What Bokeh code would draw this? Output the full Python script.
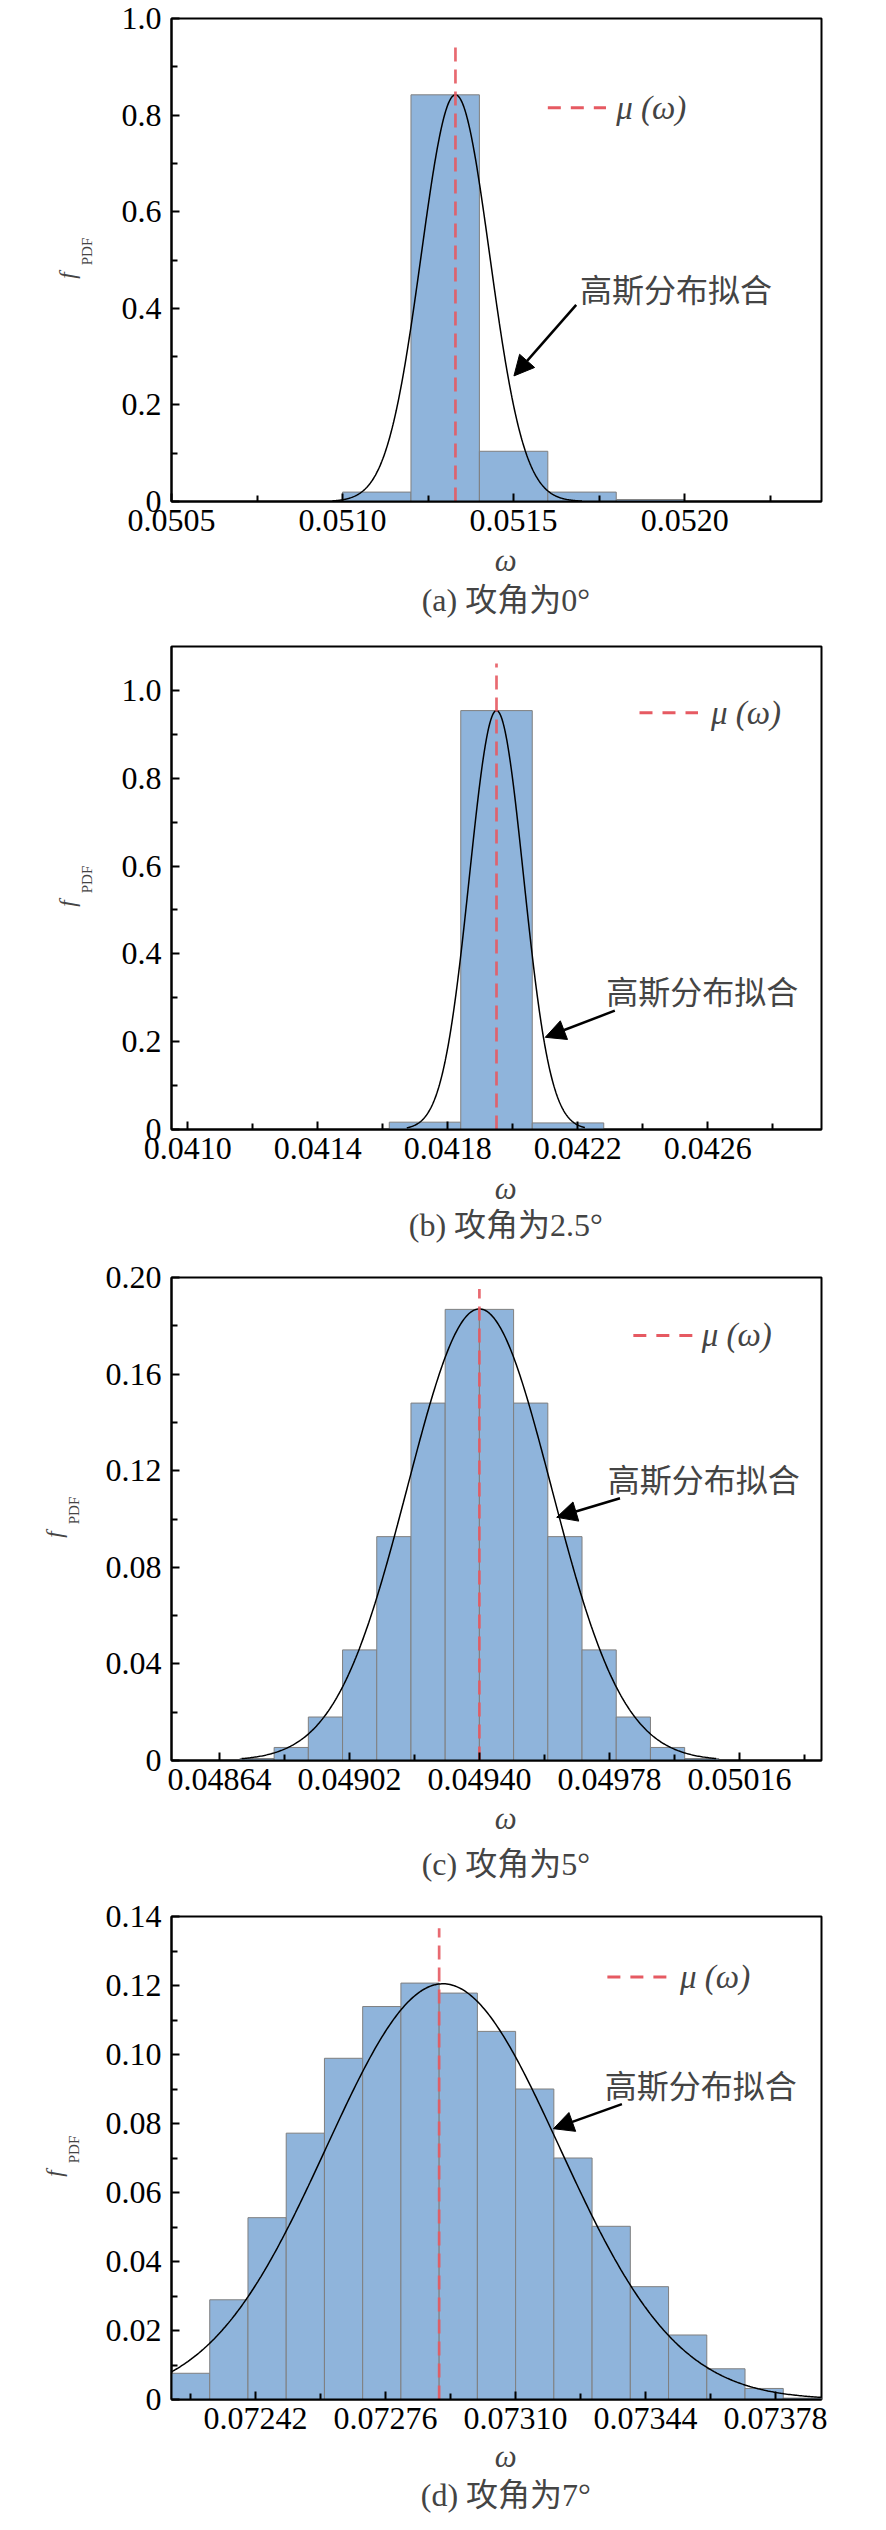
import numpy as np
from bokeh.plotting import figure
from bokeh.layouts import column, row
from bokeh.models import FixedTicker, CustomJSTickFormatter, Label, Arrow, NormalHead, Range1d
from bokeh.embed import file_html
from bokeh.resources import INLINE

# ---------------- (a) angle of attack 0 deg ----------------
a_bin_edges = [0.0510, 0.0512, 0.0514, 0.0516, 0.0518, 0.0520]
a_freq = [0.0195, 0.842, 0.104, 0.0195, 0.004]
a_mean = 0.05133
a_mean_top = 0.949
a_fit_mu, a_fit_sigma, a_fit_peak = 0.05133, 0.000100, 0.842
a_fit_x = [0.05097, 0.05170]
a_xlim = [0.0505, 0.0524]
a_ylim = [0.0, 1.0]
a_xticks = [0.0505, 0.0510, 0.0515, 0.0520]
a_xminor = [0.05075, 0.05125, 0.05175, 0.05225]
a_yticks = [0.0, 0.2, 0.4, 0.6, 0.8, 1.0]
a_yminor = [0.1, 0.3, 0.5, 0.7, 0.9]
a_legend = [0.05160, 0.05177, 0.815, 0.05180]
a_note = [0.051694, 0.4425, 0.051683, 0.407, 0.051501, 0.26]
a_caption = "(a) 攻角为0°"

# ---------------- (b) angle of attack 2.5 deg ----------------
b_bin_edges = [0.04162, 0.04184, 0.04206, 0.04228]
b_freq = [0.0167, 0.954, 0.015]
b_mean = 0.04195
b_mean_top = 1.061
b_fit_mu, b_fit_sigma, b_fit_peak = 0.04195, 0.000083, 0.954
b_fit_x = [0.041674, 0.042222]
b_xlim = [0.04095, 0.04295]
b_ylim = [0.0, 1.1]
b_xticks = [0.0410, 0.0414, 0.0418, 0.0422, 0.0426]
b_xminor = [0.0412, 0.0416, 0.0420, 0.0424, 0.0428]
b_yticks = [0.0, 0.2, 0.4, 0.6, 0.8, 1.0]
b_yminor = [0.1, 0.3, 0.5, 0.7, 0.9]
b_legend = [0.04239, 0.04257, 0.949, 0.04261]
b_note = [0.042288, 0.317, 0.042314, 0.2706, 0.042100, 0.210]
b_caption = "(b) 攻角为2.5°"

# ---------------- (c) angle of attack 5 deg ----------------
c_bin_edges = [0.0487, 0.0488, 0.0489, 0.0490, 0.0491, 0.0492, 0.0493, 0.0494,
               0.0495, 0.0496, 0.0497, 0.0498, 0.0499, 0.0500, 0.0501]
c_freq = [0.0008, 0.0054, 0.018, 0.0458, 0.0927, 0.148, 0.1868,
          0.1868, 0.148, 0.0927, 0.0458, 0.018, 0.0054, 0.0008]
c_mean = 0.04940
c_mean_top = 0.1952
c_fit_mu, c_fit_sigma, c_fit_peak = 0.04940, 0.000210, 0.187
c_fit_x = [0.048705, 0.050092]
c_xlim = [0.0485, 0.0504]
c_ylim = [0.0, 0.20]
c_xticks = [0.04864, 0.04902, 0.04940, 0.04978, 0.05016]
c_xminor = [0.04883, 0.04921, 0.04959, 0.04997, 0.05035]
c_yticks = [0.0, 0.04, 0.08, 0.12, 0.16, 0.20]
c_yminor = [0.02, 0.06, 0.10, 0.14, 0.18]
c_legend = [0.04985, 0.05003, 0.176, 0.05005]
c_note = [0.049775, 0.1168, 0.049811, 0.1086, 0.049626, 0.1007]
c_caption = "(c) 攻角为5°"

# ---------------- (d) angle of attack 7 deg ----------------
d_bin_edges = [0.0722, 0.0723, 0.0724, 0.0725, 0.0726, 0.0727, 0.0728, 0.0729, 0.0730,
               0.0731, 0.0732, 0.0733, 0.0734, 0.0735, 0.0736, 0.0737, 0.0738, 0.0739]
d_freq = [0.0076, 0.0289, 0.0527, 0.0772, 0.0989, 0.1139, 0.1207, 0.1178, 0.1067,
          0.0900, 0.0700, 0.0502, 0.0327, 0.0187, 0.0089, 0.0032, 0.0004]
d_mean = 0.0729
d_mean_top = 0.1366
d_fit_mu, d_fit_sigma, d_fit_peak = 0.07291, 0.000305, 0.1205
d_fit_x = [0.0722, 0.0739]
d_xlim = [0.0722, 0.0739]
d_ylim = [0.0, 0.14]
d_xticks = [0.07242, 0.07276, 0.07310, 0.07344, 0.07378]
d_xminor = [0.07225, 0.07259, 0.07293, 0.07327, 0.07361]
d_yticks = [0.0, 0.02, 0.04, 0.06, 0.08, 0.10, 0.12, 0.14]
d_yminor = [0.01, 0.03, 0.05, 0.07, 0.09, 0.11, 0.13]
d_legend = [0.07334, 0.07350, 0.1225, 0.07353]
d_note = [0.073333, 0.0915, 0.073378, 0.0856, 0.073199, 0.0785]
d_caption = "(d) 攻角为7°"

# ---------------- styling / layout ----------------
SERIF = "Liberation Serif"
CJK = "Noto Sans CJK SC"
MIXED = "'Liberation Serif', 'Noto Sans CJK SC'"
BAR_FILL = "#8fb4db"
BAR_LINE = "#7f7f7f"
MU_COLOR = "#e65a62"
STRIP_W = 100                      # left strip holding the y-axis titles
FRAME_W, FRAME_H = 650, 483
B_LEFT, B_RIGHT, B_BOTTOM = 71, 49, 40
B_TOP = [18, 20, 20, 20]           # room above each frame for its top tick label
MAIN_W = B_LEFT + FRAME_W + B_RIGHT
PANEL_H = [626, 631, 639, 618]     # total height of each panel block
OMEGA_GAP = [59, 59, 58, 57]       # px below frame bottom
CAPTION_GAP = [98, 95, 103, 95]
YLAB_SHIFT = [0, 0, -12.6, -12.6]
TOTAL_H = sum(PANEL_H)


def blank(width, height):
    p = figure(width=width, height=height, min_border=0, title=None,
               x_axis_location=None, y_axis_location=None,
               x_range=Range1d(0, width), y_range=Range1d(height, 0),
               output_backend="svg", toolbar_location=None)
    p.grid.visible = False
    p.outline_line_color = None
    p.background_fill_color = "white"
    p.border_fill_color = "white"
    return p


def panel(i, edges, freq, mean, mean_top, fmu, fsig, fpeak, fit_x, xlim, ylim,
          xticks, xminor, yticks, yminor, legend, note, xdec, ydec):
    p = figure(width=MAIN_W, height=B_TOP[i] + FRAME_H + B_BOTTOM, title=None,
               min_border_left=B_LEFT, min_border_right=B_RIGHT,
               min_border_top=B_TOP[i], min_border_bottom=B_BOTTOM,
               x_range=Range1d(*xlim), y_range=Range1d(*ylim),
               output_backend="svg", toolbar_location=None)
    p.grid.visible = False
    p.outline_line_color = "black"
    p.outline_line_width = 2
    p.background_fill_color = "white"
    p.border_fill_color = "white"

    # histogram
    p.quad(left=edges[:-1], right=edges[1:], bottom=0, top=freq,
           fill_color=BAR_FILL, line_color=BAR_LINE, line_width=1)

    # gaussian fit
    xs = np.linspace(fit_x[0], fit_x[1], 400)
    ys = fpeak * np.exp(-0.5 * ((xs - fmu) / fsig) ** 2)
    p.line(xs, ys, line_color="black", line_width=1.5)

    # mean line
    p.line([mean, mean], [0, mean_top], line_color=MU_COLOR, line_width=2.7,
           line_dash="14 8", line_alpha=0.9)

    # legend
    p.line([legend[0], legend[1]], [legend[2], legend[2]], line_color=MU_COLOR,
           line_width=3, line_dash="13 10")
    p.add_layout(Label(x=legend[3], y=legend[2], text="μ (ω)", text_font=SERIF,
                       text_font_style="italic", text_font_size="33px",
                       text_align="left", text_baseline="middle"))

    # annotation
    p.add_layout(Label(x=note[0], y=note[1], text="高斯分布拟合", text_font=CJK,
                       text_font_size="32px", text_align="left", text_baseline="middle"))
    p.add_layout(Arrow(end=NormalHead(size=20, fill_color="black", line_color="black"),
                       x_start=note[2], y_start=note[3], x_end=note[4], y_end=note[5],
                       line_color="black", line_width=2.5))

    # axes
    for ax, ticks, minor in ((p.xaxis[0], xticks, xminor), (p.yaxis[0], yticks, yminor)):
        ax.ticker = FixedTicker(ticks=ticks, minor_ticks=minor)
        ax.major_tick_in = 8
        ax.major_tick_out = 0
        ax.minor_tick_in = 6
        ax.minor_tick_out = 0
        ax.major_tick_line_width = 2
        ax.minor_tick_line_width = 2
        ax.axis_line_width = 2
        ax.major_label_text_font = SERIF
        ax.major_label_text_font_size = "32px"
        ax.major_label_text_color = "black"
    p.xaxis[0].formatter = CustomJSTickFormatter(code="return tick.toFixed(%d);" % xdec)
    p.yaxis[0].formatter = CustomJSTickFormatter(
        code="return Math.abs(tick) < 1e-12 ? '0' : tick.toFixed(%d);" % ydec)
    p.xaxis[0].major_label_standoff = 8
    p.yaxis[0].major_label_standoff = 10
    return p


def bottom(i, caption):
    h = PANEL_H[i] - (B_TOP[i] + FRAME_H + B_BOTTOM)
    p = blank(MAIN_W, h)
    xc = B_LEFT + FRAME_W / 2
    p.add_layout(Label(x=xc, y=OMEGA_GAP[i] - B_BOTTOM, text="ω", text_font=SERIF,
                       text_font_style="italic", text_font_size="31px",
                       text_align="center", text_baseline="middle"))
    p.add_layout(Label(x=xc, y=CAPTION_GAP[i] - B_BOTTOM, text=caption, text_font=MIXED,
                       text_font_size="32px", text_align="center", text_baseline="middle"))
    return p


# left strip with the rotated y-axis titles f_PDF
strip = blank(STRIP_W, TOTAL_H)
top = 0
for i in range(4):
    ftop = top + B_TOP[i]
    s = YLAB_SHIFT[i]
    strip.add_layout(Label(x=67.0 + s, y=ftop + 257, text="f", text_font=SERIF,
                           text_font_style="italic", text_font_size="23px",
                           angle=np.pi / 2, text_align="center", text_baseline="middle"))
    strip.add_layout(Label(x=86.0 + s, y=ftop + 233, text="PDF", text_font=SERIF,
                           text_font_size="15px",
                           angle=np.pi / 2, text_align="center", text_baseline="middle"))
    top += PANEL_H[i]

pa = panel(0, a_bin_edges, a_freq, a_mean, a_mean_top, a_fit_mu, a_fit_sigma, a_fit_peak,
           a_fit_x, a_xlim, a_ylim, a_xticks, a_xminor, a_yticks, a_yminor, a_legend,
           a_note, 4, 1)
pb = panel(1, b_bin_edges, b_freq, b_mean, b_mean_top, b_fit_mu, b_fit_sigma, b_fit_peak,
           b_fit_x, b_xlim, b_ylim, b_xticks, b_xminor, b_yticks, b_yminor, b_legend,
           b_note, 4, 1)
pc = panel(2, c_bin_edges, c_freq, c_mean, c_mean_top, c_fit_mu, c_fit_sigma, c_fit_peak,
           c_fit_x, c_xlim, c_ylim, c_xticks, c_xminor, c_yticks, c_yminor, c_legend,
           c_note, 5, 2)
pd_ = panel(3, d_bin_edges, d_freq, d_mean, d_mean_top, d_fit_mu, d_fit_sigma, d_fit_peak,
            d_fit_x, d_xlim, d_ylim, d_xticks, d_xminor, d_yticks, d_yminor, d_legend,
            d_note, 5, 2)

right = column(pa, bottom(0, a_caption), pb, bottom(1, b_caption),
               pc, bottom(2, c_caption), pd_, bottom(3, d_caption), spacing=0)
layout = row(strip, right, spacing=0)
open("out.html", "w").write(file_html(layout, INLINE))
